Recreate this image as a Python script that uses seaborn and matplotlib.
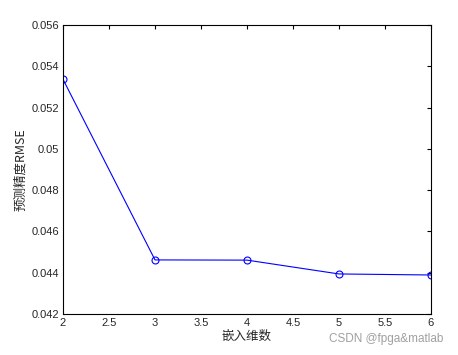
import matplotlib
matplotlib.use("Agg")
import matplotlib.pyplot as plt
import seaborn as sns
import pandas as pd

# embedding dimension vs prediction RMSE
dims = [2, 3, 4, 5, 6]
rmse = [0.05337, 0.04462, 0.04461, 0.04394, 0.04389]
xticks = [2, 2.5, 3, 3.5, 4, 4.5, 5, 5.5, 6]
yticks = [0.042, 0.044, 0.046, 0.048, 0.05, 0.052, 0.054, 0.056]
ytick_labels = ["0.042", "0.044", "0.046", "0.048", "0.05", "0.052", "0.054", "0.056"]

df = pd.DataFrame({"dim": dims, "rmse": rmse})

sns.set_style("white")
plt.rcParams['font.family'] = ['Liberation Sans', 'Noto Sans CJK SC', 'DejaVu Sans']

fig = plt.figure(figsize=(4.58, 3.55), dpi=100)
ax = fig.add_axes([63 / 458, 41 / 355, 368 / 458, 289 / 355])

sns.lineplot(data=df, x="dim", y="rmse", ax=ax, color="blue", linewidth=0.8,
             marker="o", markersize=5, markerfacecolor="none",
             markeredgecolor="blue", markeredgewidth=0.8)

ax.set_xlim(2, 6)
ax.set_ylim(0.042, 0.056)
ax.set_xticks(xticks)
ax.set_xticklabels([f"{t:g}" for t in xticks])
ax.set_yticks(yticks)
ax.set_yticklabels(ytick_labels)
ax.tick_params(direction="in", top=True, right=True, length=3, width=0.8,
               labelsize=8, pad=3, color="black")
for s in ax.spines.values():
    s.set_color("black")
    s.set_linewidth(0.8)

ax.set_xlabel("嵌入维数", fontsize=9, family=['Noto Sans CJK SC', 'DejaVu Sans'], labelpad=1)
ax.set_ylabel("预测精度RMSE", fontsize=9, family=['Noto Sans CJK SC', 'DejaVu Sans'], labelpad=3)

# watermark in the lower right corner
fig.text(443 / 458, (355 - 339) / 355, "CSDN @fpga&matlab", ha="right", va="center",
         fontsize=8.5, color="#a0a0a0")

fig.savefig("out.png", dpi=100)
